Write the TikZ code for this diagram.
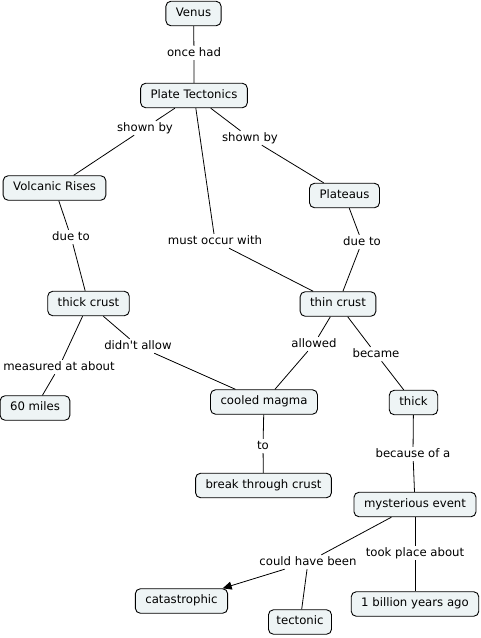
\documentclass[tikz,border=0pt]{standalone}
\usepackage{fontspec}
\setmainfont{DejaVu Sans}[Ligatures=TeXOff]
\usetikzlibrary{arrows.meta}
\definecolor{cfill}{HTML}{EEF4F5}
\begin{document}
\begin{tikzpicture}[x=1pt,y=-1pt,
  concept/.style={draw=black,fill=cfill,rounded corners=5pt,line width=0.9pt,
    inner xsep=10pt,inner ysep=0pt,minimum height=24.5pt,font=\fontsize{11.7}{13}\selectfont,
    text height=8pt,text depth=3pt},
  lbl/.style={inner sep=1.5pt,font=\fontsize{11.7}{13}\selectfont,text height=8.5pt,text depth=2.5pt},
  link/.style={line width=0.8pt,black}]
\useasboundingbox (0,0) rectangle (480,638);
% concepts
\node[concept] (venus) at (193.5,13.5) {Venus};
\node[concept] (pt) at (194,95.5) {Plate Tectonics};
\node[concept] (vr) at (54.5,188) {Volcanic Rises};
\node[concept] (pl) at (344.5,195.5) {Plateaus};
\node[concept] (thick) at (88.5,303.5) {thick crust};
\node[concept] (thin) at (338,304) {thin crust};
\node[concept] (miles) at (35,408) {60 miles};
\node[concept] (cm) at (264,402) {cooled magma};
\node[concept] (thk) at (413.5,402.5) {thick};
\node[concept] (btc) at (263.5,485.5) {break through crust};
\node[concept] (me) at (415,504.5) {mysterious event};
\node[concept] (cat) at (181.5,601) {catastrophic};
\node[concept,inner xsep=8pt] (tec) at (300,622) {tectonic};
\node[concept] (bya) at (415,604) {1 billion years ago};
% labels
\node[lbl] (l1) at (194,53) {once had};
\node[lbl] (l2) at (145,128) {shown by};
\node[lbl] (l3) at (250,138) {shown by};
\node[lbl] (l4) at (215,241) {must occur with};
\node[lbl] (l5) at (71,237) {due to};
\node[lbl] (l6) at (362,242) {due to};
\node[lbl] (l7) at (59,367) {measured at about};
\node[lbl] (l8) at (138,346) {didn't allow};
\node[lbl] (l9) at (314,344) {allowed};
\node[lbl] (l10) at (376,354) {became};
\node[lbl] (l11) at (263,446) {to};
\node[lbl] (l12) at (413,454) {because of a};
\node[lbl] (l13) at (308,562) {could have been};
\node[lbl] (l14) at (415,553) {took place about};
% links
\draw[link] (venus) -- (l1) -- (pt);
\draw[link] (pt) -- (l2) -- (vr);
\draw[link] (pt) -- (l3) -- (pl);
\draw[link] (pt) -- (l4) -- (thin);
\draw[link] (vr) -- (l5) -- (thick);
\draw[link] (pl) -- (l6) -- (thin);
\draw[link] (thick) -- (l7) -- (miles);
\draw[link] (thick) -- (l8) -- (cm);
\draw[link] (thin) -- (l9) -- (cm);
\draw[link] (thin) -- (l10) -- (thk);
\draw[link] (cm) -- (l11) -- (btc);
\draw[link] (thk) -- (l12) -- (me);
\draw[link] (me) -- (l13);
\draw[link,-{Triangle[length=9pt,width=8pt]}] (l13) -- (cat);
\draw[link] (l13) -- (tec);
\draw[link] (me) -- (l14) -- (bya);
\end{tikzpicture}
\end{document}
